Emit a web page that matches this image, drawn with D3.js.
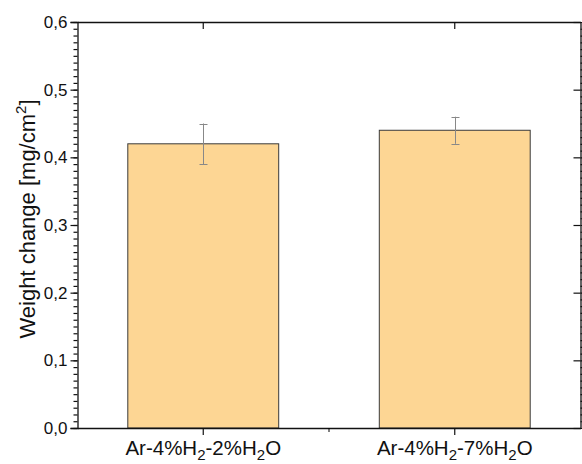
<!DOCTYPE html>
<html>
<head>
<meta charset="utf-8">
<script src="https://cdn.jsdelivr.net/npm/d3@7"></script>
<style>
  body { margin: 0; background: #fff; }
  text { font-family: "Liberation Sans", Arial, sans-serif; }
</style>
</head>
<body>
<svg width="582" height="464"></svg>
<script>
// data
var categories = ["Ar-4%H2-2%H2O", "Ar-4%H2-7%H2O"];
var values = [0.42, 0.44];
var errors = [0.03, 0.02];
var yTicks = [0, 0.1, 0.2, 0.3, 0.4, 0.5, 0.6];

var margin = {left: 77.5, right: 1.5, top: 22, bottom: 36};
var width = 582, height = 464;

var svg = d3.select("svg");

var x = d3.scaleBand()
          .domain(categories)
          .range([margin.left, width - margin.right])
          .paddingInner(0.4)
          .paddingOuter(0.2);

var y = d3.scaleLinear()
          .domain([0, 0.6])
          .range([height - margin.bottom, margin.top]);

var fmt = function(d){ return d3.format(".1f")(d).replace(".", ","); };
var minor = d3.range(0, 0.6001, 0.01);

// bars
svg.append("g")
   .selectAll("rect")
   .data(categories)
   .enter()
   .append("rect")
   .attr("x", function(d){ return x(d); })
   .attr("y", function(d,i){ return y(values[i]); })
   .attr("width", x.bandwidth())
   .attr("height", function(d,i){ return y(0) - y(values[i]); })
   .attr("fill", "#FDD694")
   .attr("stroke", "#3a3a3a")
   .attr("stroke-width", 1);

// error bars
var eb = svg.append("g")
            .attr("stroke", "#888")
            .attr("stroke-width", 1);
categories.forEach(function(c,i){
  var cx = Math.round(x(c) + x.bandwidth()/2) + 0.5;
  eb.append("line").attr("x1", cx).attr("x2", cx)
    .attr("y1", y(values[i] + errors[i])).attr("y2", y(values[i] - errors[i]));
  [values[i] + errors[i], values[i] - errors[i]].forEach(function(v){
    eb.append("line").attr("x1", cx - 4).attr("x2", cx + 4)
      .attr("y1", Math.round(y(v)) + 0.5).attr("y2", Math.round(y(v)) + 0.5);
  });
});

// left axis
var left = svg.append("g")
   .attr("transform", "translate(" + margin.left + ",0)")
   .call(d3.axisLeft(y).tickValues(yTicks).tickFormat(fmt).tickSize(7).tickPadding(3));
left.selectAll("text").attr("font-size", 17).attr("fill", "#111");
left.append("g").call(d3.axisLeft(y).tickValues(minor).tickFormat("").tickSize(4))
    .select(".domain").remove();

// right axis
var right = svg.append("g")
   .attr("transform", "translate(" + (width - margin.right) + ",0)")
   .call(d3.axisLeft(y).tickValues(yTicks).tickFormat("").tickSize(7).tickSizeOuter(0));
right.selectAll(".tick line").attr("x2", -7);
right.append("g").call(d3.axisRight(y).tickValues(minor).tickFormat("").tickSize(4))
    .select(".domain").remove();

// bottom axis
var bottom = svg.append("g")
   .attr("transform", "translate(0," + (height - margin.bottom) + ")")
   .call(d3.axisBottom(x).tickFormat("").tickSize(7).tickSizeOuter(0));
var mid = (x(categories[0]) + x.bandwidth()/2 + x(categories[1]) + x.bandwidth()/2) / 2;
bottom.append("line").attr("x1", mid).attr("x2", mid).attr("y1", 0).attr("y2", 4)
      .attr("stroke", "#000");

// top axis
svg.append("g")
   .attr("transform", "translate(0," + margin.top + ")")
   .call(d3.axisBottom(x).tickFormat("").tickSize(7).tickSizeOuter(0));

svg.selectAll(".domain").attr("stroke", "#111").attr("stroke-width", 1.3);
svg.selectAll(".tick line").attr("stroke", "#111").attr("stroke-width", 1.2);

// category labels with subscripts
categories.forEach(function(c){
  var t = svg.append("text")
     .attr("x", x(c) + x.bandwidth()/2)
     .attr("y", 455)
     .attr("text-anchor", "middle")
     .attr("font-size", 20.5)
     .attr("fill", "#111");
  var shift = 0;
  c.split(/(2(?=-|O|$))/).forEach(function(p){
    if (p === "") return;
    if (p === "2") {
      t.append("tspan").attr("font-size", 15).attr("dy", 5).text("2");
      shift = -5;
    } else {
      t.append("tspan").attr("dy", shift).text(p);
      shift = 0;
    }
  });
});

// y title
var yt = svg.append("text")
   .attr("transform", "translate(35,219) rotate(-90)")
   .attr("text-anchor", "middle")
   .attr("font-size", 22)
   .attr("fill", "#111");
yt.append("tspan").text("Weight change [mg/cm");
yt.append("tspan").attr("font-size", 15).attr("dy", -9).text("2");
yt.append("tspan").attr("dy", 9).text("]");
</script>
</body>
</html>
